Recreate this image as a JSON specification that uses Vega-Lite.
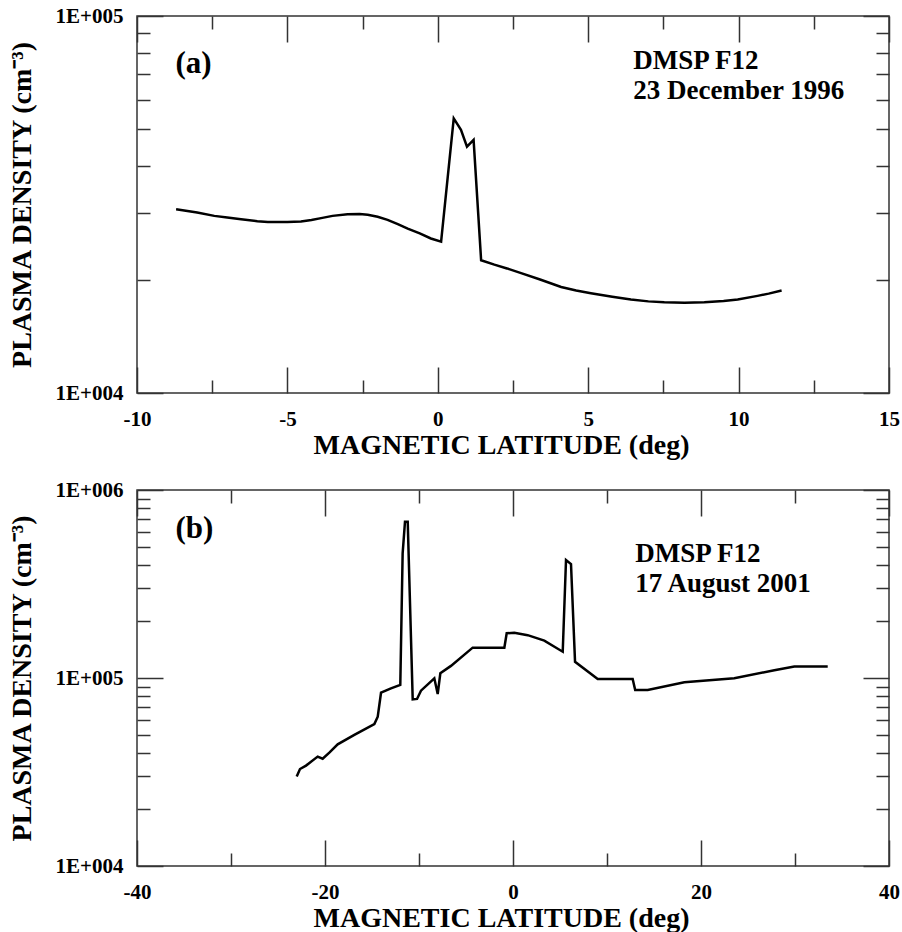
{
  "$schema": "https://vega.github.io/schema/vega-lite/v6.json",
  "padding": {"left": 7, "top": 4, "right": 3, "bottom": 5},
  "background": "white",
  "spacing": 18,
  "config": {
    "view": {"stroke": "#333", "strokeWidth": 1.5},
    "font": "Liberation Serif",
    "axis": {
      "domain": false, "grid": false, "tickColor": "#333", "tickWidth": 1.5,
      "labelFont": "Liberation Serif", "labelFontSize": 21, "labelFontWeight": "bold", "labelColor": "black",
      "titleFont": "Liberation Serif", "titleFontSize": 28, "titleFontWeight": "bold", "titleColor": "black",
      "labelFlush": false, "labelOverlap": false
    }
  },
  "datasets": {
    "a": [
      {"lat": -8.70, "density": 30700}, {"lat": -8.00, "density": 30100}, {"lat": -7.43, "density": 29500},
      {"lat": -7.00, "density": 29200}, {"lat": -6.54, "density": 28900}, {"lat": -6.00, "density": 28550},
      {"lat": -5.65, "density": 28400}, {"lat": -5.00, "density": 28400}, {"lat": -4.55, "density": 28500},
      {"lat": -4.20, "density": 28750}, {"lat": -3.88, "density": 29100}, {"lat": -3.50, "density": 29500},
      {"lat": -3.00, "density": 29800}, {"lat": -2.60, "density": 29850}, {"lat": -2.33, "density": 29700},
      {"lat": -2.00, "density": 29350}, {"lat": -1.67, "density": 28800}, {"lat": -1.33, "density": 28050},
      {"lat": -1.00, "density": 27300}, {"lat": -0.60, "density": 26500}, {"lat": -0.23, "density": 25700},
      {"lat": 0.11, "density": 25200},
      {"lat": 0.53, "density": 53500}, {"lat": 0.77, "density": 49900}, {"lat": 0.97, "density": 45000},
      {"lat": 1.19, "density": 46900}, {"lat": 1.44, "density": 22500}, {"lat": 1.88, "density": 21900},
      {"lat": 2.30, "density": 21400}, {"lat": 2.77, "density": 20800}, {"lat": 3.40, "density": 20000},
      {"lat": 4.10, "density": 19100}, {"lat": 4.60, "density": 18700}, {"lat": 5.09, "density": 18400},
      {"lat": 5.80, "density": 18000}, {"lat": 6.42, "density": 17700}, {"lat": 7.00, "density": 17500},
      {"lat": 7.53, "density": 17400}, {"lat": 8.20, "density": 17350}, {"lat": 8.86, "density": 17400},
      {"lat": 9.50, "density": 17550}, {"lat": 9.97, "density": 17700}, {"lat": 10.63, "density": 18100},
      {"lat": 11.00, "density": 18350}, {"lat": 11.43, "density": 18700}
    ],
    "b": [
      {"lat": -23.01, "density": 29900}, {"lat": -22.66, "density": 32800}, {"lat": -22.02, "density": 34200},
      {"lat": -20.78, "density": 38200}, {"lat": -20.25, "density": 37200}, {"lat": -19.54, "density": 40100},
      {"lat": -18.65, "density": 44400}, {"lat": -16.88, "density": 49800}, {"lat": -14.75, "density": 56900},
      {"lat": -14.39, "density": 62200}, {"lat": -14.04, "density": 83500}, {"lat": -12.98, "density": 88100},
      {"lat": -11.99, "density": 91800}, {"lat": -11.74, "density": 460000}, {"lat": -11.49, "density": 678000},
      {"lat": -11.20, "density": 678000}, {"lat": -10.67, "density": 77000}, {"lat": -10.21, "density": 77400},
      {"lat": -9.79, "density": 85600}, {"lat": -8.37, "density": 99600}, {"lat": -8.01, "density": 82200},
      {"lat": -7.73, "density": 106000}, {"lat": -6.60, "density": 116000}, {"lat": -4.29, "density": 145000},
      {"lat": -0.92, "density": 145000}, {"lat": -0.67, "density": 173000}, {"lat": 0.14, "density": 174000},
      {"lat": 1.56, "density": 169000}, {"lat": 3.33, "density": 158000}, {"lat": 5.29, "density": 138000},
      {"lat": 5.64, "density": 424000}, {"lat": 6.17, "density": 404000}, {"lat": 6.60, "density": 122000},
      {"lat": 9.01, "density": 98800}, {"lat": 12.73, "density": 98800}, {"lat": 13.00, "density": 86400},
      {"lat": 14.33, "density": 86400}, {"lat": 18.23, "density": 94900}, {"lat": 23.54, "density": 99600},
      {"lat": 27.80, "density": 110000}, {"lat": 29.93, "density": 115000}, {"lat": 33.48, "density": 115000}
    ],
    "ta": [
      {"lat": 6.5, "density": 72400, "label": "DMSP F12"},
      {"lat": 6.5, "density": 60300, "label": "23 December 1996"}
    ],
    "pa": [
      {"lat": -8.72, "density": 70600, "label": "(a)"}
    ],
    "tb": [
      {"lat": 13.0, "density": 415600, "label": "DMSP F12"},
      {"lat": 13.0, "density": 288000, "label": "17 August 2001"}
    ],
    "pb": [
      {"lat": -35.9, "density": 555000, "label": "(b)"}
    ]
  },
  "vconcat": [
    {
      "width": 752, "height": 377,
      "resolve": {"axis": {"x": "independent", "y": "independent"}},
      "layer": [
        {
          "data": {"name": "a"},
          "mark": {"type": "line", "color": "black", "strokeWidth": 2.5},
          "encoding": {
            "x": {"field": "lat", "type": "quantitative", "scale": {"domain": [-10, 15], "nice": false, "zero": false},
              "axis": {"orient": "bottom", "values": [-10, -5, 0, 5, 10, 15], "tickSize": -26, "labelPadding": 41, "labelExpr": "datum.value < 0 ? '-' + abs(datum.value) : '' + datum.value", "title": "MAGNETIC LATITUDE (deg)", "titlePadding": 2, "titleX": 364}},
            "y": {"field": "density", "type": "quantitative", "scale": {"type": "log", "domain": [10000, 100000], "nice": false},
              "axis": {"orient": "left", "values": [10000, 100000], "tickSize": -26, "labelPadding": 40, "labelExpr": "datum.value == 10000 ? '1E+004' : '1E+005'", "title": "PLASMA DENSITY (cm⁻³)", "titlePadding": 19}}
          }
        },
        {
          "data": {"name": "ta"},
          "mark": {"type": "text", "align": "left", "baseline": "alphabetic", "font": "Liberation Serif", "fontWeight": "bold", "fontSize": 27, "color": "black"},
          "encoding": {
            "x": {"field": "lat", "type": "quantitative", "scale": {"domain": [-10, 15], "nice": false, "zero": false},
              "axis": {"orient": "bottom", "values": [-7.5, -2.5, 2.5, 7.5, 12.5], "tickSize": -13, "labels": false, "title": null}},
            "y": {"field": "density", "type": "quantitative", "scale": {"type": "log", "domain": [10000, 100000], "nice": false},
              "axis": {"orient": "left", "values": [20000, 30000, 40000, 50000, 60000, 70000, 80000, 90000], "tickSize": -13, "labels": false, "title": null}},
            "text": {"field": "label", "type": "nominal"}
          }
        },
        {
          "data": {"name": "pa"},
          "mark": {"type": "text", "align": "left", "baseline": "alphabetic", "font": "Liberation Serif", "fontWeight": "bold", "fontSize": 31, "color": "black"},
          "encoding": {
            "x": {"field": "lat", "type": "quantitative", "scale": {"domain": [-10, 15], "nice": false, "zero": false},
              "axis": {"orient": "top", "values": [-10, -5, 0, 5, 10, 15], "tickSize": -26, "labels": false, "title": null}},
            "y": {"field": "density", "type": "quantitative", "scale": {"type": "log", "domain": [10000, 100000], "nice": false},
              "axis": {"orient": "right", "values": [10000, 100000], "tickSize": -26, "labels": false, "title": null}},
            "text": {"field": "label", "type": "nominal"}
          }
        },
        {
          "data": {"name": "a"},
          "mark": {"type": "line", "opacity": 0},
          "encoding": {
            "x": {"field": "lat", "type": "quantitative", "scale": {"domain": [-10, 15], "nice": false, "zero": false},
              "axis": {"orient": "top", "values": [-7.5, -2.5, 2.5, 7.5, 12.5], "tickSize": -13, "labels": false, "title": null}},
            "y": {"field": "density", "type": "quantitative", "scale": {"type": "log", "domain": [10000, 100000], "nice": false},
              "axis": {"orient": "right", "values": [20000, 30000, 40000, 50000, 60000, 70000, 80000, 90000], "tickSize": -13, "labels": false, "title": null}}
          }
        }
      ]
    },
    {
      "width": 752, "height": 376,
      "resolve": {"axis": {"x": "independent", "y": "independent"}},
      "layer": [
        {
          "data": {"name": "b"},
          "mark": {"type": "line", "color": "black", "strokeWidth": 2.5},
          "encoding": {
            "x": {"field": "lat", "type": "quantitative", "scale": {"domain": [-40, 40], "nice": false, "zero": false},
              "axis": {"orient": "bottom", "values": [-40, -20, 0, 20, 40], "tickSize": -26, "labelPadding": 41, "labelExpr": "datum.value < 0 ? '-' + abs(datum.value) : '' + datum.value", "title": "MAGNETIC LATITUDE (deg)", "titlePadding": 2, "titleX": 364}},
            "y": {"field": "density", "type": "quantitative", "scale": {"type": "log", "domain": [10000, 1000000], "nice": false},
              "axis": {"orient": "left", "values": [10000, 100000, 1000000], "tickSize": -26, "labelPadding": 40, "labelExpr": "datum.value == 10000 ? '1E+004' : datum.value == 100000 ? '1E+005' : '1E+006'", "title": "PLASMA DENSITY (cm⁻³)", "titlePadding": 19}}
          }
        },
        {
          "data": {"name": "tb"},
          "mark": {"type": "text", "align": "left", "baseline": "alphabetic", "font": "Liberation Serif", "fontWeight": "bold", "fontSize": 27, "color": "black"},
          "encoding": {
            "x": {"field": "lat", "type": "quantitative", "scale": {"domain": [-40, 40], "nice": false, "zero": false},
              "axis": {"orient": "bottom", "values": [-30, -10, 10, 30], "tickSize": -13, "labels": false, "title": null}},
            "y": {"field": "density", "type": "quantitative", "scale": {"type": "log", "domain": [10000, 1000000], "nice": false},
              "axis": {"orient": "left", "values": [20000, 30000, 40000, 50000, 60000, 70000, 80000, 90000, 200000, 300000, 400000, 500000, 600000, 700000, 800000, 900000], "tickSize": -13, "labels": false, "title": null}},
            "text": {"field": "label", "type": "nominal"}
          }
        },
        {
          "data": {"name": "pb"},
          "mark": {"type": "text", "align": "left", "baseline": "alphabetic", "font": "Liberation Serif", "fontWeight": "bold", "fontSize": 31, "color": "black"},
          "encoding": {
            "x": {"field": "lat", "type": "quantitative", "scale": {"domain": [-40, 40], "nice": false, "zero": false},
              "axis": {"orient": "top", "values": [-40, -20, 0, 20, 40], "tickSize": -26, "labels": false, "title": null}},
            "y": {"field": "density", "type": "quantitative", "scale": {"type": "log", "domain": [10000, 1000000], "nice": false},
              "axis": {"orient": "right", "values": [10000, 100000, 1000000], "tickSize": -26, "labels": false, "title": null}},
            "text": {"field": "label", "type": "nominal"}
          }
        },
        {
          "data": {"name": "b"},
          "mark": {"type": "line", "opacity": 0},
          "encoding": {
            "x": {"field": "lat", "type": "quantitative", "scale": {"domain": [-40, 40], "nice": false, "zero": false},
              "axis": {"orient": "top", "values": [-30, -10, 10, 30], "tickSize": -13, "labels": false, "title": null}},
            "y": {"field": "density", "type": "quantitative", "scale": {"type": "log", "domain": [10000, 1000000], "nice": false},
              "axis": {"orient": "right", "values": [20000, 30000, 40000, 50000, 60000, 70000, 80000, 90000, 200000, 300000, 400000, 500000, 600000, 700000, 800000, 900000], "tickSize": -13, "labels": false, "title": null}}
          }
        }
      ]
    }
  ]
}
